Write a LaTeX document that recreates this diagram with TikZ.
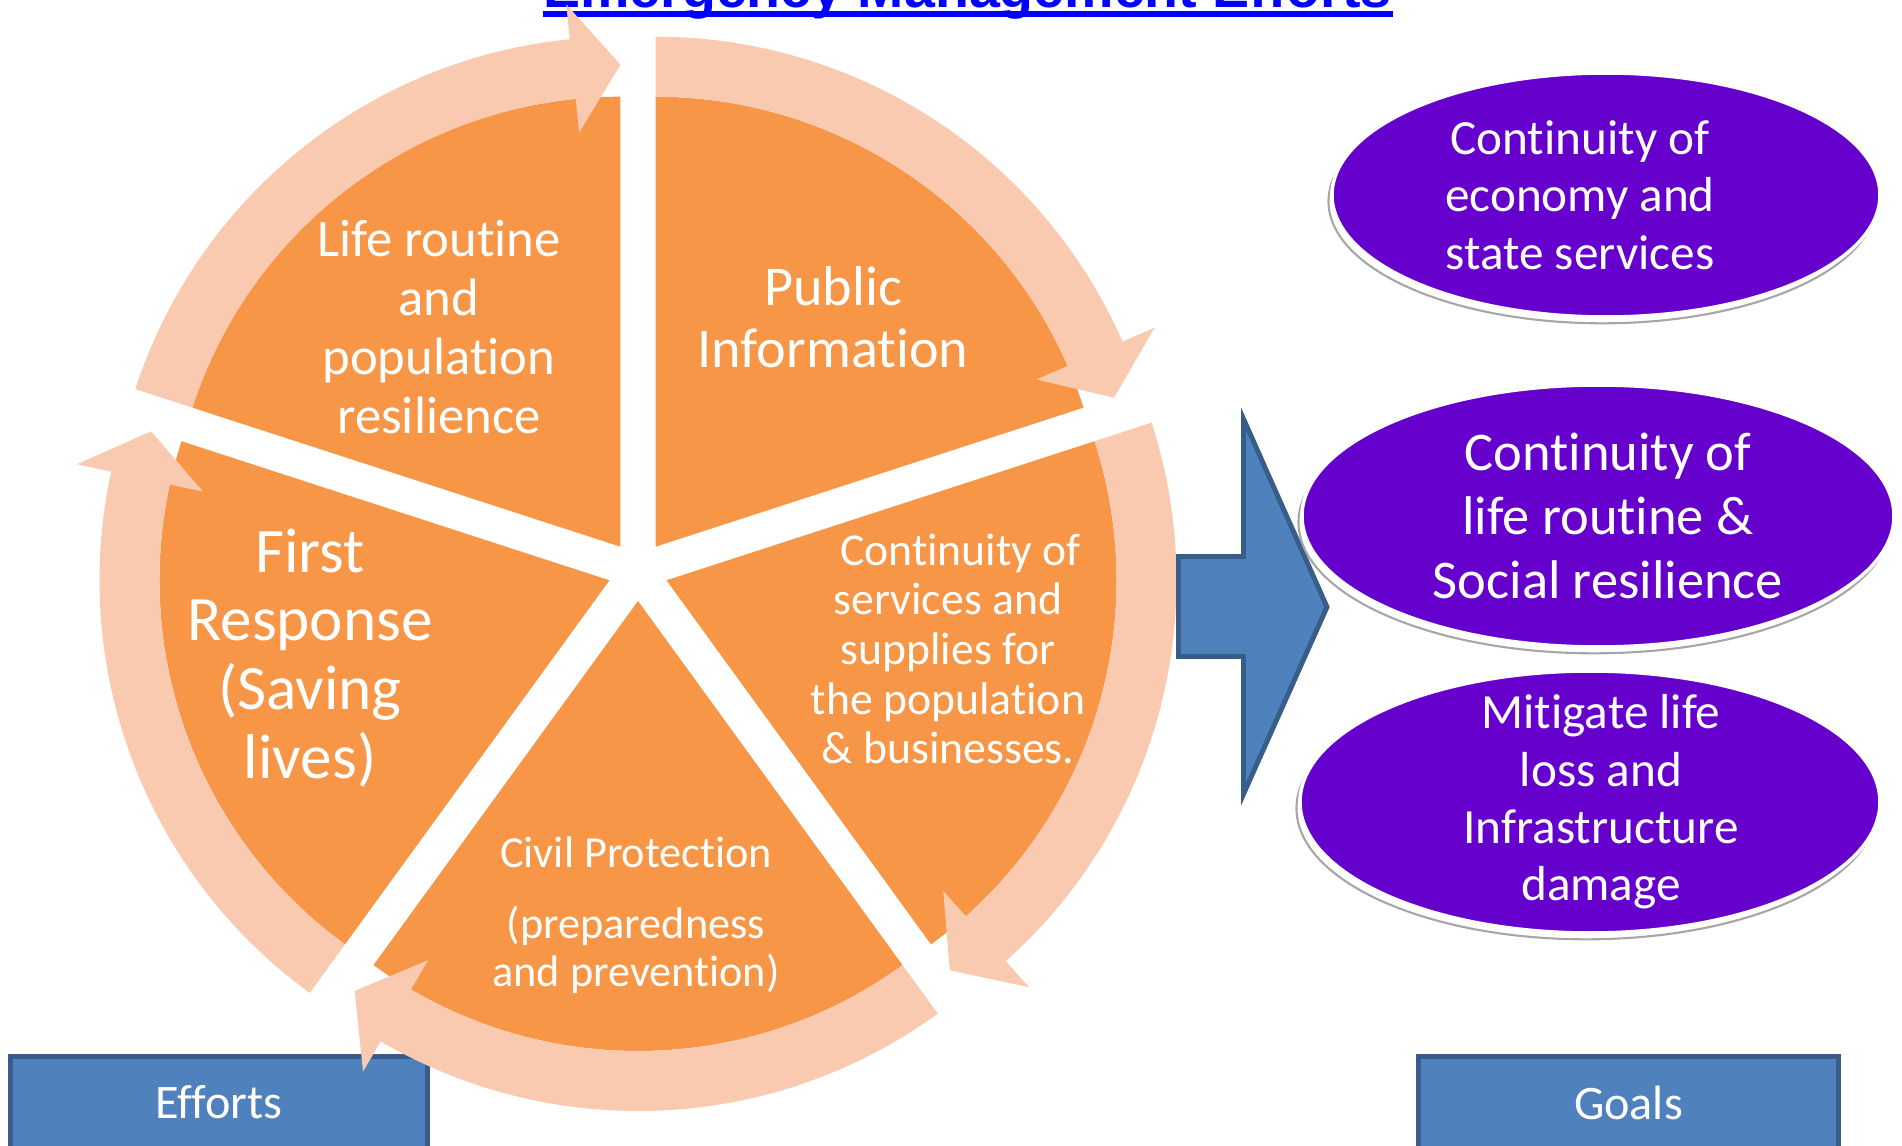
\documentclass[tikz,border=0pt]{standalone}
\usepackage{fontspec}
\setmainfont{Carlito}[Ligatures=NoCommon]
\newfontfamily\titlefont{Liberation Sans}
\usetikzlibrary{shapes.geometric,shadows}
\definecolor{sliceorange}{HTML}{F79646}
\definecolor{ringpeach}{RGB}{249,201,176}
\definecolor{goalpurple}{HTML}{6600CC}
\definecolor{boxblue}{HTML}{4F81BD}
\definecolor{boxedge}{HTML}{385D8A}
\definecolor{titleblue}{HTML}{0000FF}
\begin{document}
\begin{tikzpicture}[
    slice/.style={fill=sliceorange},
    ring/.style={fill=ringpeach},
    slicetext/.style={text=white, align=center},
    goal/.style={ellipse, fill=goalpurple, draw=white, line width=1pt,
      general shadow={fill=white, draw=gray!70, line width=0.6pt, shadow xshift=-1pt, shadow yshift=-1.8pt}},
    goaltext/.style={text=white, align=center},
    tagbox/.style={rectangle, fill=boxblue, draw=boxedge, line width=1.4pt, text=white,
      minimum height=0.92cm, font=\fontsize{13.7}{16}\selectfont},
    bigarrow/.style={fill=boxblue, draw=boxedge, line width=1.4pt, line join=miter}]
  \useasboundingbox (0,0) rectangle (19.02,11.45);
  % title
  \node[text=titleblue, font=\titlefont\bfseries\fontsize{15.8}{18}\selectfont, inner sep=0, anchor=base] (title) at (9.675,11.37) {Emergency Management Efforts};
  \draw[titleblue, line width=1.7pt] ([yshift=-0.06cm]title.base west) -- ([yshift=-0.06cm]title.base east);
  % boxes
  \node[tagbox, minimum width=4.17cm] (efforts) at (2.19,0.425) {Efforts};
  \node[tagbox, minimum width=4.20cm] (goals) at (16.285,0.425) {Goals};
  % slices
  \fill[slice] (6.556,5.983) -- ++(18:4.5) arc[start angle=18, end angle=90, radius=4.5] -- cycle;
  \fill[slice] (6.665,5.647) -- ++(-54:4.5) arc[start angle=-54, end angle=18, radius=4.5] -- cycle;
  \fill[slice] (6.38,5.44) -- ++(-126:4.5) arc[start angle=-126, end angle=-54, radius=4.5] -- cycle;
  \fill[slice] (6.095,5.647) -- ++(162:4.5) arc[start angle=162, end angle=234, radius=4.5] -- cycle;
  \fill[slice] (6.204,5.983) -- ++(90:4.5) arc[start angle=90, end angle=162, radius=4.5] -- cycle;
  % ring arrows, clockwise
  \fill[ring, shift={(6.204,5.983)}] (162:5.1) arc[start angle=162, end angle=95.7, radius=5.1] -- (95.7:5.45) -- (90:4.82) -- (95.7:4.16) -- (95.7:4.5) arc[start angle=95.7, end angle=162, radius=4.5] -- cycle;
  \fill[ring, shift={(6.556,5.983)}] (90:5.1) arc[start angle=90, end angle=23.7, radius=5.1] -- (23.7:5.45) -- (18:4.82) -- (23.7:4.16) -- (23.7:4.5) arc[start angle=23.7, end angle=90, radius=4.5] -- cycle;
  \fill[ring, shift={(6.665,5.647)}] (18:5.1) arc[start angle=18, end angle=-48.3, radius=5.1] -- (-48.3:5.45) -- (-54:4.82) -- (-48.3:4.16) -- (-48.3:4.5) arc[start angle=-48.3, end angle=18, radius=4.5] -- cycle;
  \fill[ring, shift={(6.38,5.44)}] (-54:5.1) arc[start angle=-54, end angle=-120.3, radius=5.1] -- (-120.3:5.45) -- (-126:4.82) -- (-120.3:4.16) -- (-120.3:4.5) arc[start angle=-120.3, end angle=-54, radius=4.5] -- cycle;
  \fill[ring, shift={(6.095,5.647)}] (234:5.1) arc[start angle=234, end angle=167.7, radius=5.1] -- (167.7:5.45) -- (162:4.82) -- (167.7:4.16) -- (167.7:4.5) arc[start angle=167.7, end angle=234, radius=4.5] -- cycle;
  % slice texts
  \node[slicetext, font=\fontsize{15}{16.8}\selectfont] (lifetext) at (4.39,8.18) {Life routine\\and\\population\\resilience};
  \node[slicetext, font=\fontsize{16}{17.6}\selectfont] (pubtext) at (8.33,8.28) {Public\\Information};
  \node[slicetext, font=\fontsize{13}{14.1}\selectfont] (contitext) at (9.48,4.96) {\hspace*{0.25cm}Continuity of\\services and\\supplies for\\the population\\\& businesses.};
  \node[slicetext, font=\fontsize{12.6}{13.7}\selectfont] (civiltext) at (6.36,2.30) {Civil Protection\\[6.5pt](preparedness\\and prevention)};
  \node[slicetext, font=\fontsize{18}{19.6}\selectfont] (firsttext) at (3.10,4.87) {First\\Response\\(Saving\\lives)};
  % arrow to the goals
  \draw[bigarrow] (11.785,5.885) -- (12.435,5.885) -- (12.435,7.26) -- (13.27,5.38) -- (12.435,3.51) -- (12.435,4.885) -- (11.785,4.885) -- cycle;
  % goals
  \node[goal, minimum width=5.48cm, minimum height=2.44cm] (econ) at (16.06,9.50) {};
  \node[goal, minimum width=5.92cm, minimum height=2.62cm] (routine) at (15.98,6.29) {};
  \node[goal, minimum width=5.80cm, minimum height=2.62cm] (loss) at (15.90,3.43) {};
  \node[goaltext, font=\fontsize{14}{16.4}\selectfont] (econtext) at ([xshift=-0.26cm]econ.center) {Continuity of\\economy and\\state services};
  \node[goaltext, font=\fontsize{15.5}{18.2}\selectfont] (routinetext) at ([xshift=0.1cm]routine.center) {Continuity of\\life routine \&\\Social resilience};
  \node[goaltext, font=\fontsize{14}{16.3}\selectfont] (losstext) at ([xshift=0.11cm]loss.center) {Mitigate life\\loss and\\Infrastructure\\damage};
\end{tikzpicture}
\end{document}
